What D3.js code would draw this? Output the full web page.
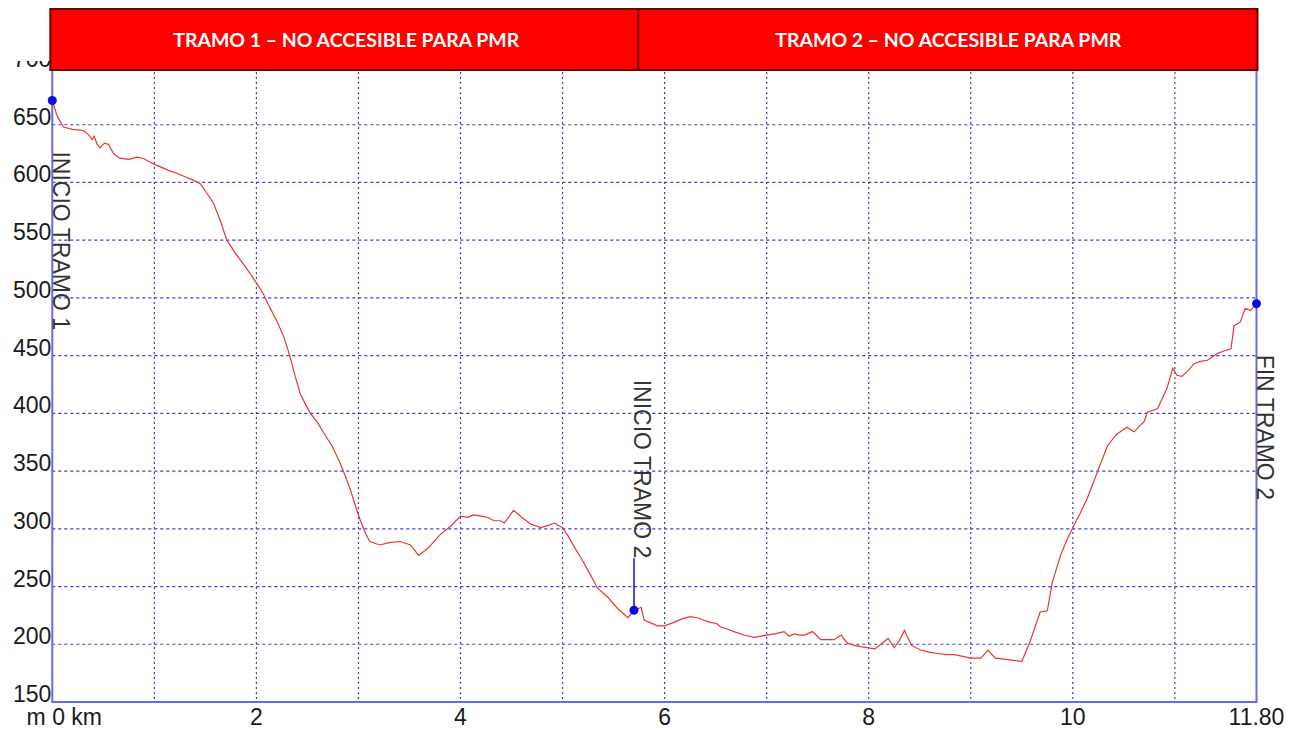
<!DOCTYPE html>
<html>
<head>
<meta charset="utf-8">
<script src="https://cdn.jsdelivr.net/npm/d3@7"></script>
<style>
  body { margin: 0; background: #fff; }
  .tick-label { font-family: "Liberation Sans", Arial, sans-serif; font-size: 23px; fill: #1a1a1a; }
  .marker-label { font-family: "Liberation Sans", Arial, sans-serif; font-size: 23px; fill: #333; }
  .banner-text { font-family: Lato, "Open Sans", sans-serif; font-weight: bold; font-size: 19px; fill: #fff; }
</style>
</head>
<body>
<div class="chart"></div>
<script>
// profile (distance in km, altitude in m)
const km = [0, 0.05, 0.11, 0.2, 0.3, 0.36, 0.39, 0.41, 0.44, 0.47, 0.51, 0.55, 0.6, 0.66, 0.75, 0.83, 0.89, 0.95, 1.02, 1.1, 1.15, 1.22, 1.3, 1.38, 1.45,
  1.52, 1.58, 1.65, 1.71, 1.8, 1.9, 2.0, 2.07, 2.13, 2.2, 2.27, 2.33, 2.38, 2.43, 2.48, 2.53, 2.6, 2.66, 2.74, 2.82, 2.87, 2.92, 2.97, 3.02, 3.07, 3.11,
  3.21, 3.3, 3.41, 3.51, 3.59, 3.65, 3.7, 3.8, 3.9, 4.0, 4.07, 4.13, 4.2, 4.26, 4.33, 4.39, 4.43, 4.52, 4.6, 4.69, 4.79, 4.86, 4.92, 5.0,
  5.06, 5.11, 5.18, 5.25, 5.34, 5.44, 5.54, 5.64, 5.7, 5.77, 5.8, 5.93, 6.0, 6.09, 6.17, 6.25, 6.32, 6.38, 6.45, 6.51, 6.55, 6.62, 6.68, 6.78, 6.88,
  7.0, 7.08, 7.17, 7.22, 7.27, 7.32, 7.37, 7.45, 7.53, 7.6, 7.66, 7.73, 7.79, 7.86, 7.92, 8.06, 8.12, 8.19, 8.25, 8.3, 8.35, 8.42, 8.51, 8.6,
  8.68, 8.76, 8.84, 9.0, 9.1, 9.17, 9.24, 9.35, 9.5, 9.58, 9.68, 9.75, 9.8, 9.88, 9.94, 10.0, 10.07, 10.14, 10.24, 10.34, 10.43, 10.48, 10.53,
  10.6, 10.7, 10.73, 10.83, 10.92, 10.98, 11.02, 11.07, 11.13, 11.19, 11.25, 11.32, 11.37, 11.42, 11.48, 11.55, 11.58, 11.64, 11.69, 11.74, 11.8];
const elev = [671, 657, 648, 646, 645, 641, 637, 640, 633, 630, 634, 633, 625, 621, 620, 622, 621, 618, 615, 612, 610, 608, 605, 602, 599,
  590, 582, 566, 550, 538, 526, 513, 503, 492, 480, 466, 449, 432, 417, 408, 400, 392, 383, 372, 357, 346, 334, 320, 307, 296, 289,
  286, 288, 289, 286, 277, 281, 285, 295, 302, 311, 310, 312, 311, 310, 307, 307, 305, 316, 310, 304, 301, 303, 305, 301,
  293, 285, 275, 264, 249, 241, 231, 223, 229, 232, 221, 216, 216, 219, 222, 224, 223, 221, 219, 218, 215, 213, 211, 208, 206,
  208, 209, 211, 207, 209, 208, 208, 211, 204, 204, 204, 208, 201, 199, 198, 196, 200, 205, 197, 203, 212, 199, 195, 193,
  192, 191, 191, 188, 188, 195, 188, 187, 185, 202, 228, 229, 254, 277, 290, 301, 313, 326, 349, 372, 382, 385, 388,
  384, 393, 401, 404, 421, 439, 433, 432, 437, 443, 445, 446, 449, 452, 454, 456, 476, 479, 491, 489, 495];

const yTicks = [150, 200, 250, 300, 350, 400, 450, 500, 550, 600, 650, 700];
const xGrid = [1, 2, 3, 4, 5, 6, 7, 8, 9, 10, 11];
const xTicks = [0, 2, 4, 6, 8, 10, 11.8];
const xTickLabels = ["m 0 km", "2", "4", "6", "8", "10", "11.80"];

const sections = ["TRAMO 1 \u2013 NO ACCESIBLE PARA PMR", "TRAMO 2 \u2013 NO ACCESIBLE PARA PMR"];
const sectionBreaks = [0, 5.76, 11.8];

const markerNames = ["INICIO TRAMO 1", "INICIO TRAMO 2", "FIN TRAMO 2"];
const markerKm = [0, 5.7, 11.8];
const markerElev = [671, 229.5, 495];
const markerAbove = [false, true, false];

const width = 1300, height = 730;
const svg = d3.select(".chart").append("svg")
    .attr("width", width)
    .attr("height", height);

const x = d3.scaleLinear().domain([0, 11.8]).range([52.3, 1256.5]);
const y = d3.scaleLinear().domain([150, 700]).range([702, 67]);

// grid
const gridColor = "#3b3bd0";
svg.append("g").selectAll("line")
    .data(yTicks.slice(1))
    .enter().append("line")
    .attr("x1", x(0)).attr("x2", x(11.8))
    .attr("y1", d => y(d)).attr("y2", d => y(d))
    .attr("stroke", gridColor).attr("stroke-width", 1.2)
    .attr("stroke-dasharray", "3,3");
svg.append("g").selectAll("line")
    .data(xGrid)
    .enter().append("line")
    .attr("x1", d => x(d)).attr("x2", d => x(d))
    .attr("y1", y(700)).attr("y2", y(150))
    .attr("stroke", gridColor).attr("stroke-width", 1.2)
    .attr("stroke-dasharray", "2,3");

// frame (left, right, bottom)
const frameColor = "#6a6ae0";
svg.append("path")
    .attr("d", `M${x(0)},${y(700)}V${y(150)}H${x(11.8)}V${y(700)}`)
    .attr("fill", "none").attr("stroke", frameColor).attr("stroke-width", 2);

// y labels
svg.append("g").selectAll("text")
    .data(yTicks)
    .enter().append("text")
    .attr("class", "tick-label")
    .attr("x", x(0) - 1)
    .attr("y", d => y(d))
    .attr("text-anchor", "end")
    .text(d => d);
// the 700 label is cut at the top in the original
svg.append("rect").attr("x", 0).attr("y", 0).attr("width", 52).attr("height", 61).attr("fill", "#fff");

// x labels
svg.append("g").selectAll("text")
    .data(xTicks)
    .enter().append("text")
    .attr("class", "tick-label")
    .attr("x", (d, i) => i === 0 ? x(d) + 12 : x(d))
    .attr("y", 725)
    .attr("text-anchor", "middle")
    .text((d, i) => xTickLabels[i]);

// profile line
const profile = km.map((d, i) => ({ km: d, elev: elev[i] }));
svg.append("path")
    .datum(profile)
    .attr("fill", "none")
    .attr("stroke", "#e8362e")
    .attr("stroke-width", 1.2)
    .attr("d", d3.line().x(d => x(d.km)).y(d => y(d.elev)));

// markers
const markers = markerNames.map((n, i) => ({ name: n, km: markerKm[i], elev: markerElev[i], above: markerAbove[i] }));
const mg = svg.append("g").selectAll("g").data(markers).enter().append("g");
mg.filter(d => d.above).append("line")
    .attr("x1", d => x(d.km)).attr("x2", d => x(d.km))
    .attr("y1", d => y(d.elev) - 52).attr("y2", d => y(d.elev))
    .attr("stroke", "#1010d0").attr("stroke-width", 1.5);
mg.append("circle")
    .attr("cx", d => x(d.km)).attr("cy", d => y(d.elev))
    .attr("r", 4.5).attr("fill", "#0a0ae6");
mg.append("text")
    .attr("class", "marker-label")
    .attr("transform", d => `translate(${x(d.km) + 0.5},${d.above ? y(d.elev) - 52 : y(d.elev) + 51}) rotate(90)`)
    .attr("text-anchor", d => d.above ? "end" : "start")
    .text(d => d.name);

// banner
const banner = svg.append("g");
banner.selectAll("rect")
    .data(sections)
    .enter().append("rect")
    .attr("x", (d, i) => x(sectionBreaks[i]) - 2)
    .attr("y", 9)
    .attr("width", (d, i) => x(sectionBreaks[i + 1]) - x(sectionBreaks[i]) + (i === 1 ? 3 : 2))
    .attr("height", 61)
    .attr("fill", "#fe0000")
    .attr("stroke", "#6e0000")
    .attr("stroke-width", 2);
banner.selectAll("text")
    .data(sections)
    .enter().append("text")
    .attr("class", "banner-text")
    .attr("x", (d, i) => (x(sectionBreaks[i]) + x(sectionBreaks[i + 1])) / 2)
    .attr("y", 47)
    .attr("text-anchor", "middle")
    .attr("textLength", 346)
    .attr("lengthAdjust", "spacingAndGlyphs")
    .text(d => d);
</script>
</body>
</html>
